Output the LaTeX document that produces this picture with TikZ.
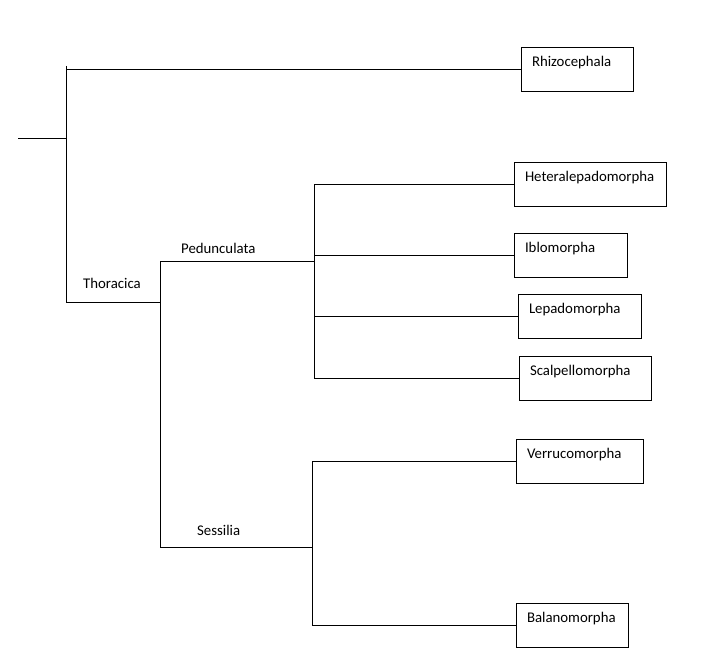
\documentclass[tikz,border=0pt]{standalone}
\usepackage{fontspec}
\setmainfont{Carlito}
\usepackage{tikz}

\tikzset{
  taxon/.style={draw, line width=1pt, anchor=north west, align=left,
    inner xsep=10.5pt, inner ysep=0pt, text height=19pt, text depth=25pt,
    text width=#1, font=\fontsize{14.8}{16}\selectfont},
  clade/.style={anchor=base west, inner sep=0pt, font=\fontsize{14.8}{16}\selectfont},
  branch/.style={line width=1pt}
}

\begin{document}
\begin{tikzpicture}[x=1pt, y=-1pt]
    \useasboundingbox (0,0) rectangle (711,663);

    % Taxon boxes
    \node[taxon=91pt]  (rhizo) at (521,47)  {Rhizocephala};
    \node[taxon=131pt] (heter) at (514,162) {Heteralepadomorpha};
    \node[taxon=92pt]  (iblo)  at (514,233) {Iblomorpha};
    \node[taxon=102pt] (lepa)  at (518,294) {Lepadomorpha};
    \node[taxon=111pt] (scal)  at (519,356) {Scalpellomorpha};
    \node[taxon=106pt] (verr)  at (516,439) {Verrucomorpha};
    \node[taxon=91pt]  (bala)  at (516,603) {Balanomorpha};

    % Clade labels
    \node[clade] (thorlab) at (83,288)  {Thoracica};
    \node[clade] (pedlab)  at (181,253) {Pedunculata};
    \node[clade] (seslab)  at (197,535) {Sessilia};

    % Branch points
    \coordinate (root) at (18,139);
    \coordinate (thorA) at (66,66);
    \coordinate (thorB) at (66,302);
    \coordinate (subA) at (160,261);
    \coordinate (subB) at (160,547);
    \coordinate (pedA) at (314,184);
    \coordinate (pedB) at (314,378);
    \coordinate (sesA) at (312,461);
    \coordinate (sesB) at (312,625);

    % Root and Thoracica
    \draw[branch] (root) -- (root -| thorA);
    \draw[branch] (thorA) -- (thorB);
    \draw[branch] (thorA |- rhizo.west) -- (rhizo.west);
    \draw[branch] (thorB) -- (thorB -| subA);

    % Pedunculata and Sessilia
    \draw[branch] (subA) -- (subB);
    \draw[branch] (subA) -- (subA -| pedA);
    \draw[branch] (pedA) -- (pedB);
    \draw[branch] (subB) -- (subB -| sesA);
    \draw[branch] (sesA) -- (sesB);

    % Leaves
    \foreach \t in {heter, iblo, lepa, scal}
        \draw[branch] (pedA |- \t.west) -- (\t.west);
    \foreach \t in {verr, bala}
        \draw[branch] (sesA |- \t.west) -- (\t.west);
\end{tikzpicture}
\end{document}
